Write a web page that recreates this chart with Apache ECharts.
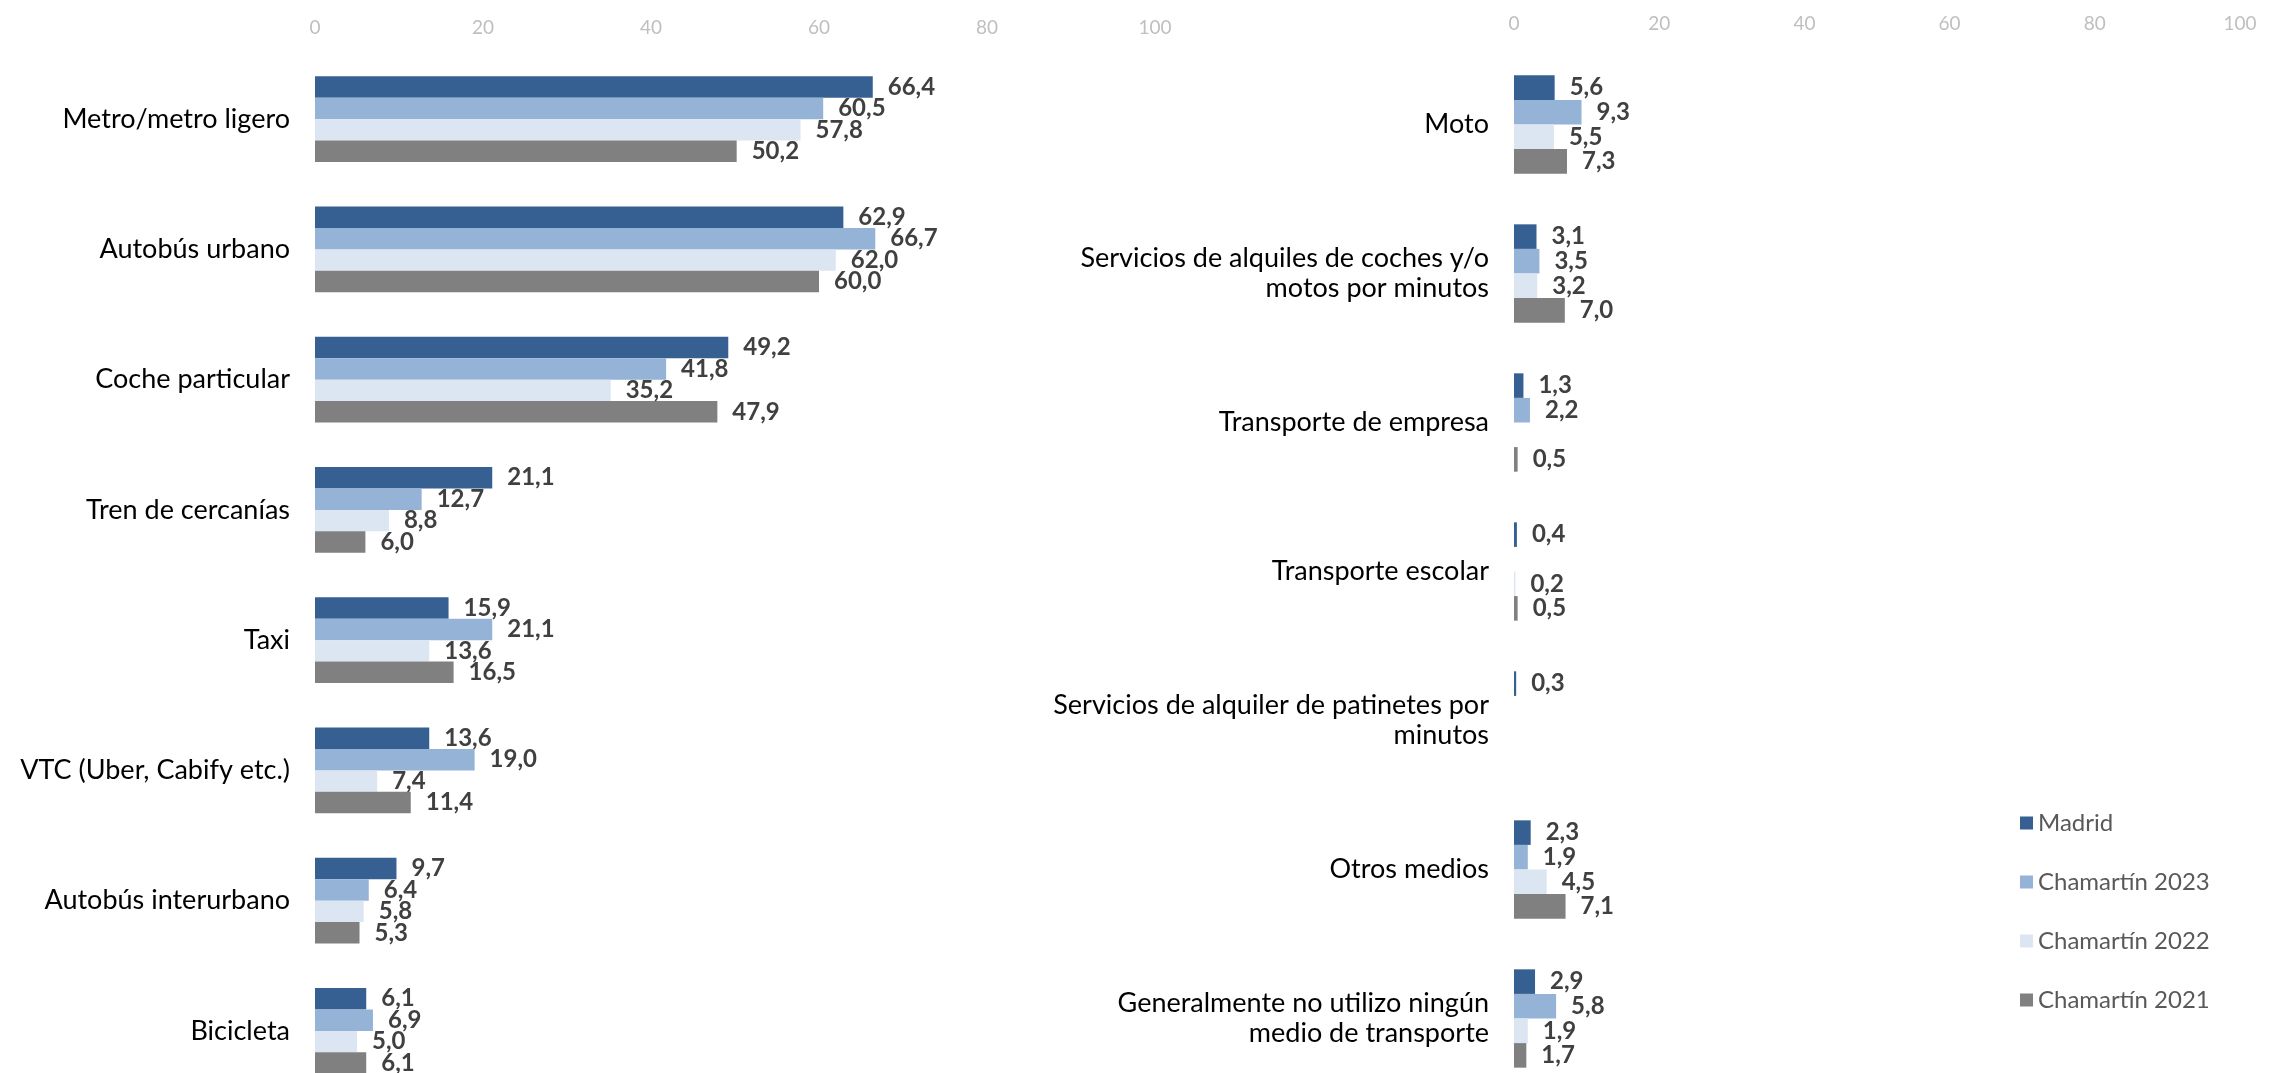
<!DOCTYPE html>
<html>
<head>
<meta charset="utf-8">
<script src="https://cdn.jsdelivr.net/npm/echarts@6/dist/echarts.min.js"></script>
<style>
  html, body { margin: 0; padding: 0; background: #fff; overflow: hidden; }
  /* taller than the window: the last bars run off the bottom like in the source */
  #chart { width: 2269px; height: 1110px; }
</style>
</head>
<body>
<div id="chart"></div>
<script>
// series names
const seriesNames = ["Madrid", "Chamartín 2023", "Chamartín 2022", "Chamartín 2021"];
const colors = ["#376092", "#95B3D7", "#DCE6F2", "#808080"];

// left panel
const leftCats = [
  "Metro/metro ligero",
  "Autobús urbano",
  "Coche particular",
  "Tren de cercanías",
  "Taxi",
  "VTC (Uber, Cabify etc.)",
  "Autobús interurbano",
  "Bicicleta"
];
const leftMadrid = [66.4, 62.9, 49.2, 21.1, 15.9, 13.6, 9.7, 6.1];
const leftCh2023 = [60.5, 66.7, 41.8, 12.7, 21.1, 19.0, 6.4, 6.9];
const leftCh2022 = [57.8, 62.0, 35.2, 8.8, 13.6, 7.4, 5.8, 5.0];
const leftCh2021 = [50.2, 60.0, 47.9, 6.0, 16.5, 11.4, 5.3, 6.1];

// right panel ('-' = no value shown)
const rightCats = [
  "Moto",
  "Servicios de alquiles de coches y/o\nmotos por minutos",
  "Transporte de empresa",
  "Transporte escolar",
  "Servicios de alquiler de patinetes por\nminutos",
  "Otros medios",
  "Generalmente no utilizo ningún\nmedio de transporte"
];
const rightMadrid = [5.6, 3.1, 1.3, 0.4, 0.3, 2.3, 2.9];
const rightCh2023 = [9.3, 3.5, 2.2, "-", "-", 1.9, 5.8];
const rightCh2022 = [5.5, 3.2, "-", 0.2, "-", 4.5, 1.9];
const rightCh2021 = [7.3, 7.0, 0.5, 0.5, "-", 7.1, 1.7];

const xTicks = { min: 0, max: 100, interval: 20 };

const leftData = [leftMadrid, leftCh2023, leftCh2022, leftCh2021];
const rightData = [rightMadrid, rightCh2023, rightCh2022, rightCh2021];

const fmt = p => (typeof p.value === "number" ? p.value.toFixed(1).replace(".", ",") : "");

function makeSeries(dataSets, idx) {
  return dataSets.map((d, i) => ({
    name: seriesNames[i],
    type: "bar",
    xAxisIndex: idx,
    yAxisIndex: idx,
    data: d,
    barGap: "0%",
    barCategoryGap: "34%",
    itemStyle: { color: colors[i] },
    label: {
      show: true,
      position: "right",
      distance: 15,
      formatter: fmt,
      fontFamily: "Lato",
      fontWeight: "bold",
      fontSize: 24,
      color: "#404040"
    }
  }));
}

function xAxisFor(idx) {
  return {
    gridIndex: idx,
    type: "value",
    position: "top",
    min: xTicks.min,
    max: xTicks.max,
    interval: xTicks.interval,
    axisLine: { show: false },
    axisTick: { show: false },
    splitLine: { show: false },
    axisLabel: { color: "#bfbfbf", fontFamily: "Lato", fontSize: 19, margin: 17 }
  };
}

function yAxisFor(idx, cats) {
  return {
    gridIndex: idx,
    type: "category",
    inverse: true,
    data: cats,
    axisLine: { show: false },
    axisTick: { show: false },
    axisLabel: {
      color: "#000",
      fontFamily: "Lato",
      fontSize: 27,
      lineHeight: 30,
      margin: 25,
      align: "right"
    }
  };
}

const chart = echarts.init(document.getElementById("chart"));
chart.setOption({
  animation: false,
  backgroundColor: "#fff",
  legend: {
    orient: "vertical",
    left: 2015,
    top: 806,
    icon: "rect",
    itemWidth: 13,
    itemHeight: 13,
    itemGap: 35,
    data: seriesNames,
    textStyle: { fontFamily: "Lato", fontSize: 24, color: "#595959" }
  },
  grid: [
    { left: 315, width: 840, top: 54, height: 1042 },
    { left: 1514, width: 726, top: 50, height: 1043 }
  ],
  xAxis: [xAxisFor(0), xAxisFor(1)],
  yAxis: [yAxisFor(0, leftCats), yAxisFor(1, rightCats)],
  series: makeSeries(leftData, 0).concat(makeSeries(rightData, 1))
});
</script>
</body>
</html>
